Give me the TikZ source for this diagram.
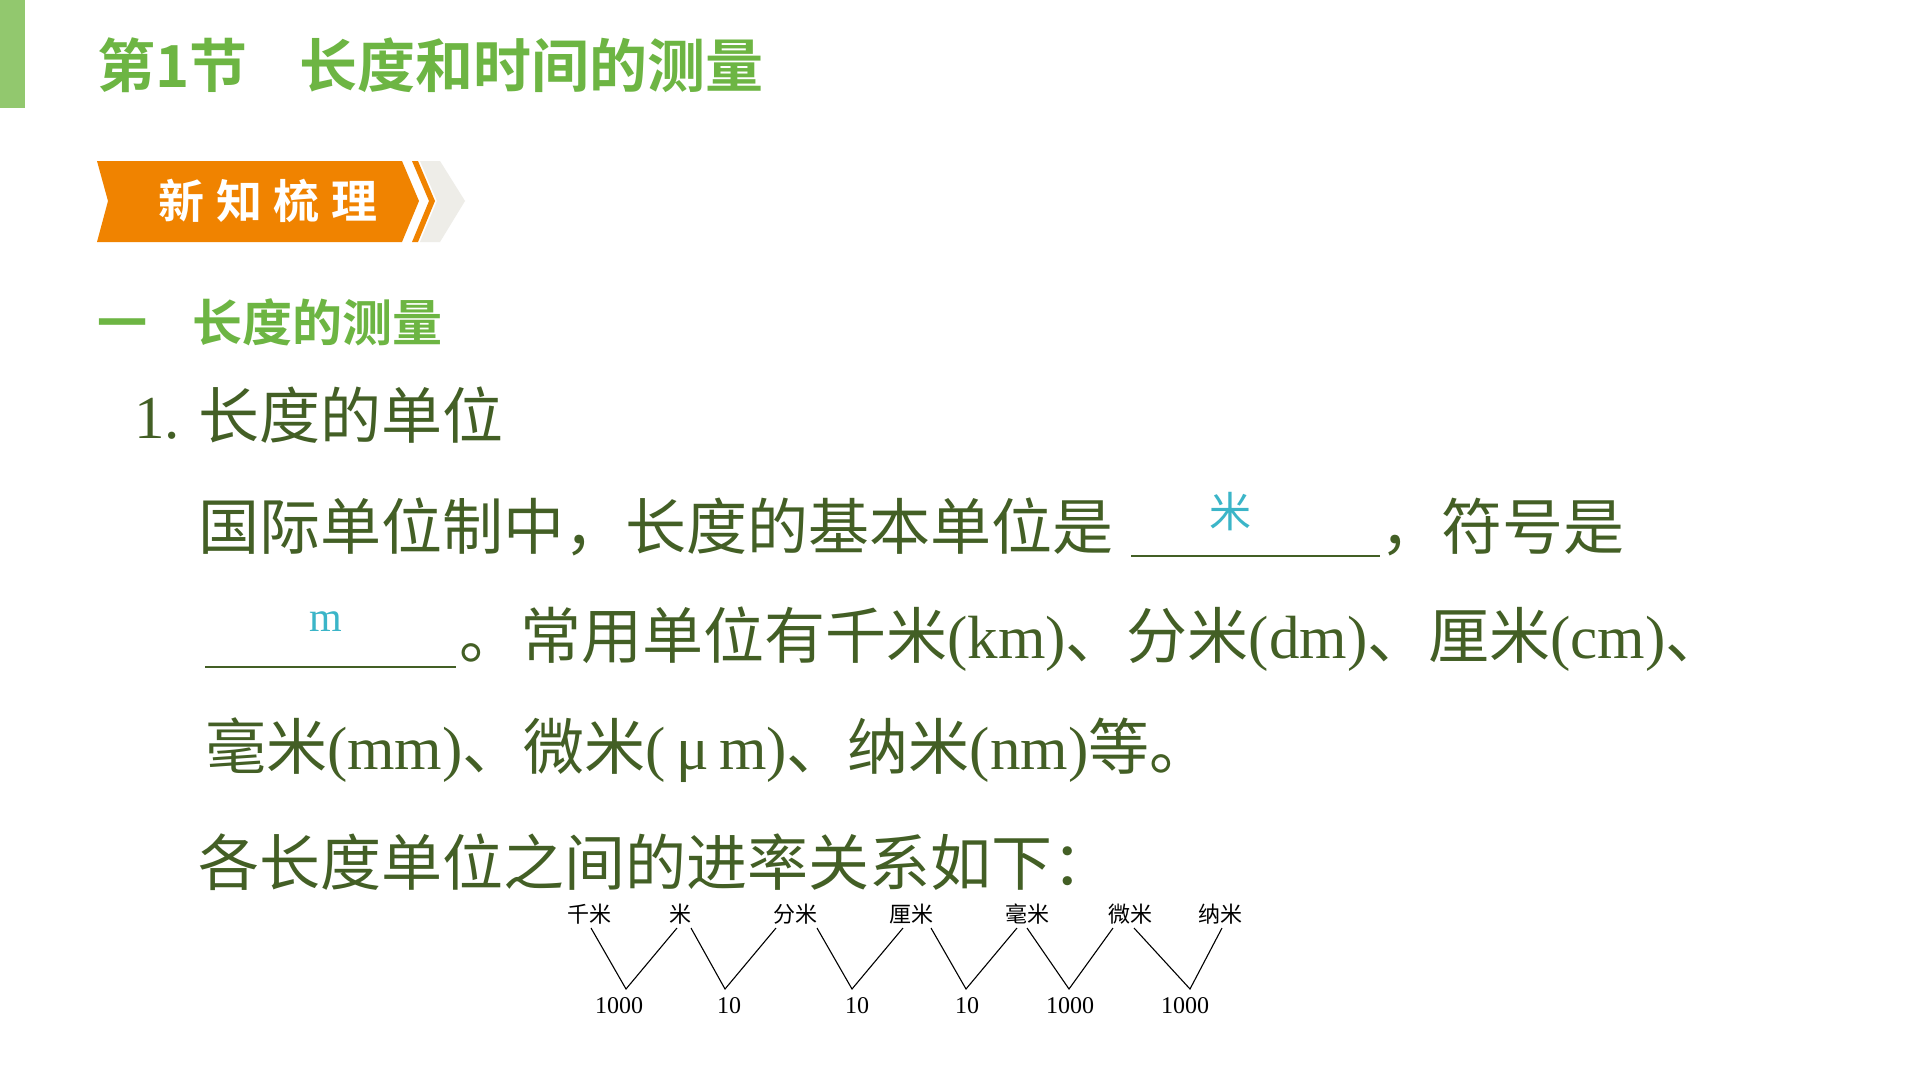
\documentclass[tikz,border=0pt]{standalone}
\usepackage{fontspec}
\setmainfont{Liberation Serif}
\newfontfamily\cjk{Noto Sans CJK SC}
\newfontfamily\cjkb{Noto Sans CJK SC Bold}
\definecolor{tgreen}{HTML}{6DB543}
\definecolor{bargreen}{HTML}{92C86E}
\definecolor{dgreen}{HTML}{435F25}
\definecolor{borange}{HTML}{F08300}
\definecolor{bgray}{HTML}{EEEDE8}
\definecolor{ans}{HTML}{3BB5C8}
\begin{document}
\begin{tikzpicture}[x=1pt,y=-1pt,
  title/.style={font=\cjkb\fontsize{58}{60}\selectfont,text=tgreen,anchor=west,inner sep=0},
  body/.style={font=\fontsize{61}{64}\selectfont,text=dgreen,anchor=west,inner sep=0},
  answer/.style={font=\fontsize{42}{44}\selectfont,text=ans,inner sep=0},
  blank/.style={line width=2.5pt,draw=dgreen},
  lab/.style={font=\cjk\fontsize{22}{24}\selectfont,inner sep=0},
  num/.style={font=\fontsize{24}{26}\selectfont,inner sep=0},
  vline/.style={line width=1.1pt}]
\useasboundingbox[fill=white] (0,0) rectangle (1920,1080);
% top bar and title
\fill[bargreen] (0,0) rectangle (25,108);
\node[title] (t) at (97,65) {第1节\hspace{0.9em}长度和时间的测量};
% banner
\fill[bgray] (420,161) -- (440,161) -- (465,201) -- (440,242) -- (420,242) -- (437,201) -- cycle;
\fill[borange] (412,161) -- (418,161) -- (435,201) -- (418,242) -- (412,242) -- (429,201) -- cycle;
\fill[borange] (97,161) -- (402,161) -- (419,201) -- (402,242) -- (97,242) -- (108,201) -- cycle;
\node[font=\cjkb\fontsize{46}{48}\selectfont,text=white,inner sep=0] (bn) at (268,201) {新\hspace{0.25em}知\hspace{0.25em}梳\hspace{0.25em}理};
\node[title,font=\cjkb\fontsize{50}{52}\selectfont] (sec) at (97,322) {一\hspace{0.9em}长度的测量};
% body
\node[body] (h1) at (134,415) {1.\hspace{0.3em}{\cjk 长度的单位}};
\node[body] (l2a) at (198,527) {\cjk 国际单位制中，长度的基本单位是};
\coordinate (b1s) at (1131,556); \coordinate (b1e) at (1380,556);
\draw[blank] (b1s) -- (b1e);
\node[answer,font=\cjk\fontsize{42}{44}\selectfont] (a1) at (1230,512) {米};
\node[body] (l2b) at (1380,527) {\cjk ，符号是};
\coordinate (b2s) at (205,667); \coordinate (b2e) at (456,667);
\draw[blank] (b2s) -- (b2e);
\node[answer] (a2) at (326,622) {m};
\node[body] (l3) at (459,639) {{\cjk 。常用单位有千米}(km){\cjk 、分米}(dm){\cjk 、厘米}(cm){\cjk 、}};
\node[body] (l4) at (205,750) {{\cjk 毫米}(mm){\cjk 、微米}(\,μ\,m){\cjk 、纳米}(nm){\cjk 等。}};
\node[body] (l5) at (198,862) {\cjk 各长度单位之间的进率关系如下：};
% diagram
\node[lab] (u1) at (589,914) {千米};
\node[lab] (u2) at (680,914) {米};
\node[lab] (u3) at (795,914) {分米};
\node[lab] (u4) at (911,914) {厘米};
\node[lab] (u5) at (1027,914) {毫米};
\node[lab] (u6) at (1130,914) {微米};
\node[lab] (u7) at (1220,914) {纳米};
\node[num] (n1) at (619,1006) {1000};
\node[num] (n2) at (729,1006) {10};
\node[num] (n3) at (857,1006) {10};
\node[num] (n4) at (967,1006) {10};
\node[num] (n5) at (1070,1006) {1000};
\node[num] (n6) at (1185,1006) {1000};
\coordinate (p1a) at (591,928); \coordinate (v1) at (626,989); \coordinate (p1b) at (677,928);
\coordinate (p2a) at (691,928); \coordinate (v2) at (725,989); \coordinate (p2b) at (776,928);
\coordinate (p3a) at (817,928); \coordinate (v3) at (852,989); \coordinate (p3b) at (903,928);
\coordinate (p4a) at (931,928); \coordinate (v4) at (966,989); \coordinate (p4b) at (1017,928);
\coordinate (p5a) at (1027,928); \coordinate (v5) at (1069,989); \coordinate (p5b) at (1113,928);
\coordinate (p6a) at (1134,928); \coordinate (v6) at (1190,989); \coordinate (p6b) at (1222,928);
\foreach \i in {1,...,6} \draw[vline] (p\i a) -- (v\i) -- (p\i b);
\end{tikzpicture}
\end{document}
